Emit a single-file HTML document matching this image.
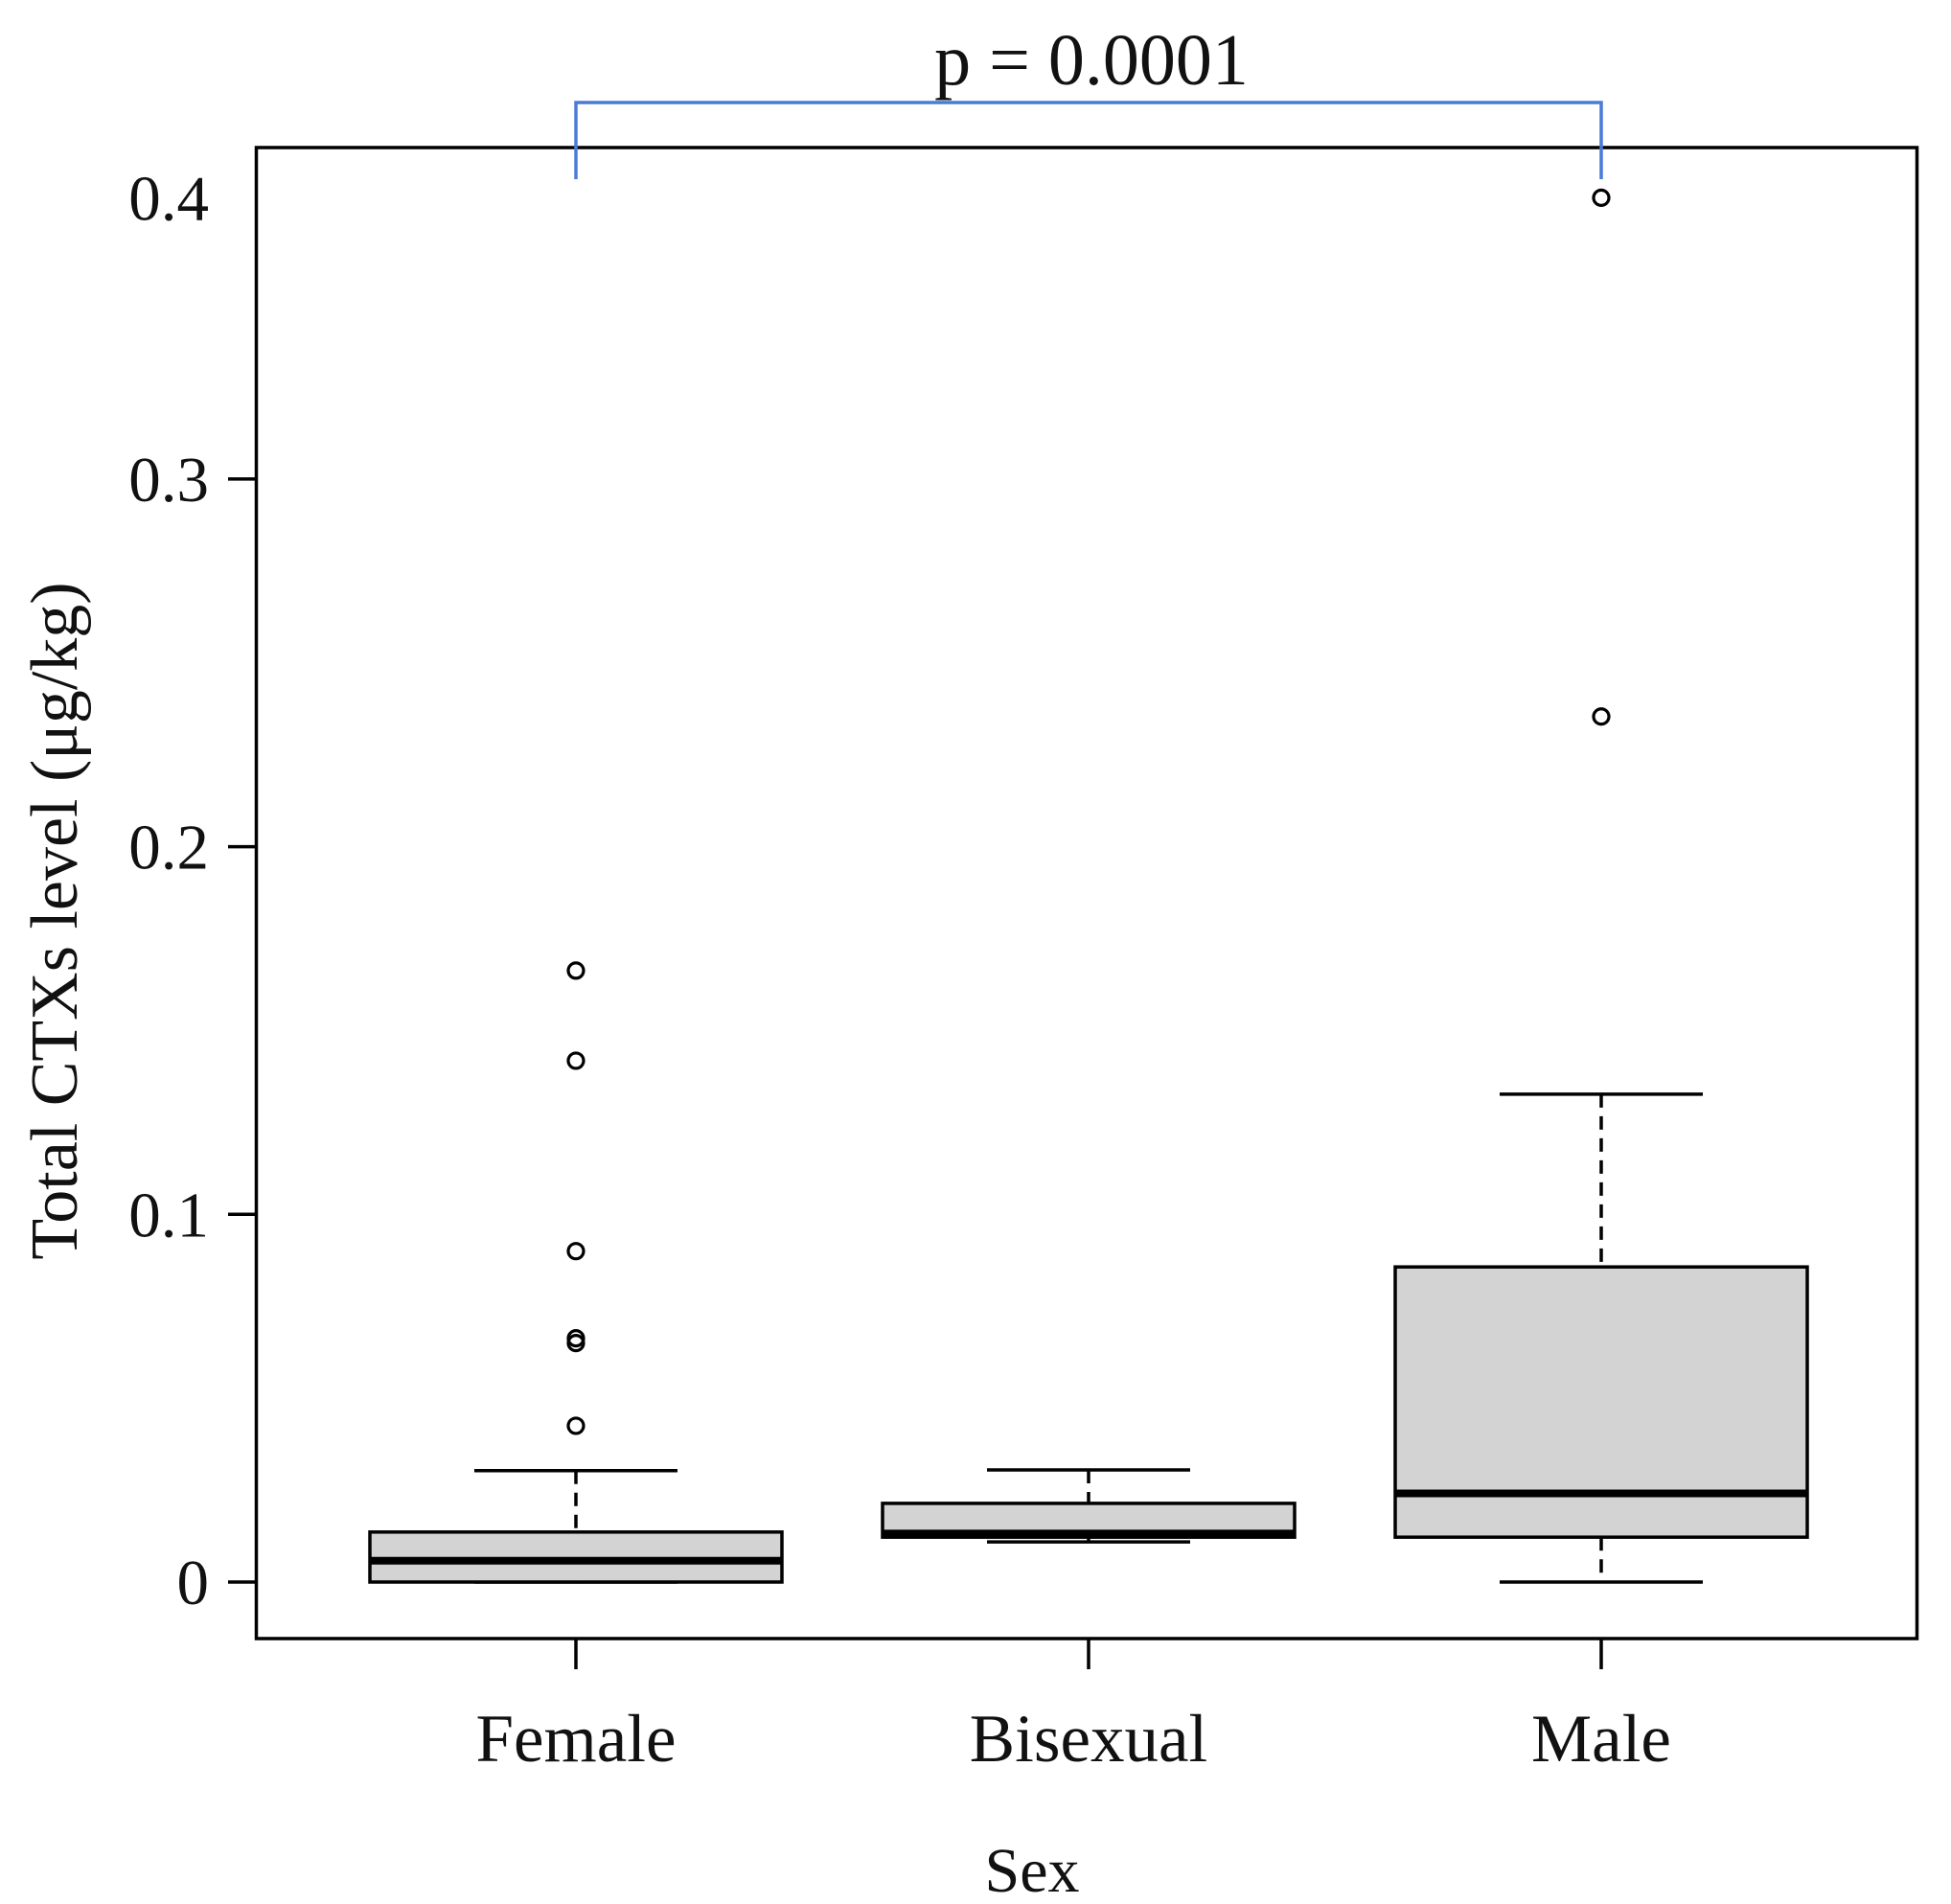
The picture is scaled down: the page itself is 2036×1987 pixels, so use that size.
<!DOCTYPE html>
<html>
<head>
<meta charset="utf-8">
<style>
html,body{margin:0;padding:0;background:#fff;}
svg{display:block;}
text{font-family:"Liberation Serif",serif;fill:#111;}
</style>
</head>
<body>
<svg id="chart" width="2036" height="1987" viewBox="0 0 2036 1987" xmlns="http://www.w3.org/2000/svg">
  <rect x="267.5" y="154" width="1733" height="1556" fill="none" stroke="#000" stroke-width="3.5"/>
  <g id="marks"></g>
  <text x="0" y="0" font-size="70" text-anchor="middle" transform="translate(80,961) rotate(-90)">Total CTXs level (μg/kg)</text>
  <text x="1077" y="1974" font-size="66" text-anchor="middle">Sex</text>
  <text x="1139" y="88" font-size="76" text-anchor="middle">p = 0.0001</text>
</svg>
<script>
const categories = ["Female", "Bisexual", "Male"];
const whiskerLow = [0, 0.0109, 0];
const q1 = [0, 0.0122, 0.0122];
const medians = [0.0058, 0.0132, 0.0241];
const q3 = [0.0136, 0.0214, 0.0857];
const whiskerHigh = [0.0303, 0.0305, 0.1327];
const outliersFemale = [0.0425, 0.065, 0.0663, 0.090, 0.1418, 0.1663];
const outliersBisexual = [];
const outliersMale = [0.2354, 0.3765];
const yTickValues = [0, 0.1, 0.2, 0.3];
const yTickLabels = ["0", "0.1", "0.2", "0.3"];
const topLabelValue = 0.3765;
const topLabelText = "0.4";

const NS = "http://www.w3.org/2000/svg";
const marks = document.getElementById("marks");
function y(v){ return 1651 - v * 3837; }
function x(i){ return 601 + i * 535; }
function mk(tag, attrs, parent){
  const el = document.createElementNS(NS, tag);
  for (const k in attrs) el.setAttribute(k, attrs[k]);
  (parent || marks).appendChild(el);
  return el;
}
const outliers = [outliersFemale, outliersBisexual, outliersMale];
const boxHalf = 215, capHalf = 106;

categories.forEach((c, i) => {
  const cx = x(i);
  const g = mk("g", {});
  
  
  const wu = mk("line", {x1:cx, x2:cx, y1:y(whiskerHigh[i]), y2:y(q3[i]), stroke:"#000", "stroke-width":3.5, "stroke-dasharray":"14 9"}, g);
  
  
  const wl = mk("line", {x1:cx, x2:cx, y1:y(q1[i]), y2:y(whiskerLow[i]), stroke:"#000", "stroke-width":3.5, "stroke-dasharray":"14 9"}, g);
  
  
  const cu = mk("line", {x1:cx-capHalf, x2:cx+capHalf, y1:y(whiskerHigh[i]), y2:y(whiskerHigh[i]), stroke:"#000", "stroke-width":3.5}, g);
  
  
  const cl = mk("line", {x1:cx-capHalf, x2:cx+capHalf, y1:y(whiskerLow[i]), y2:y(whiskerLow[i]), stroke:"#000", "stroke-width":3.5}, g);
  
  
  const r = mk("rect", {x:cx-boxHalf, y:y(q3[i]), width:2*boxHalf, height:Math.max(1, y(q1[i]) - y(q3[i])), fill:"#d3d3d3", stroke:"#000", "stroke-width":3.5}, g);
  
  
  const m = mk("line", {x1:cx-boxHalf, x2:cx+boxHalf, y1:y(medians[i]), y2:y(medians[i]), stroke:"#000", "stroke-width":8}, g);
  
  
  outliers[i].forEach(v => {
    const o = mk("circle", {cx:cx, cy:y(v), r:8, fill:"none", stroke:"#000", "stroke-width":3.2}, g);
    
    
  });
  const t = mk("line", {x1:cx, x2:cx, y1:1710, y2:1742, stroke:"#000", "stroke-width":3.5});
  
  
  const tl = mk("text", {x:cx, y:1838, "font-size":71, "text-anchor":"middle"});
  tl.textContent = c;
  
  
});

yTickValues.forEach((v, i) => {
  const t = mk("line", {x1:238, x2:267.5, y1:y(v), y2:y(v), stroke:"#000", "stroke-width":3.5});
  
  
  const l = mk("text", {x:218, y:y(v) + 23, "font-size":67, "text-anchor":"end"});
  l.textContent = yTickLabels[i];
  
  
});
const topLabel = mk("text", {x:218, y:y(topLabelValue) + 23, "font-size":67, "text-anchor":"end"});
topLabel.textContent = topLabelText;



const br = mk("path", {d:"M " + x(0) + " 187 V 107 H " + x(2) + " V 187", fill:"none", stroke:"#4a7bd5", "stroke-width":3.5});


</script>
</body>
</html>
